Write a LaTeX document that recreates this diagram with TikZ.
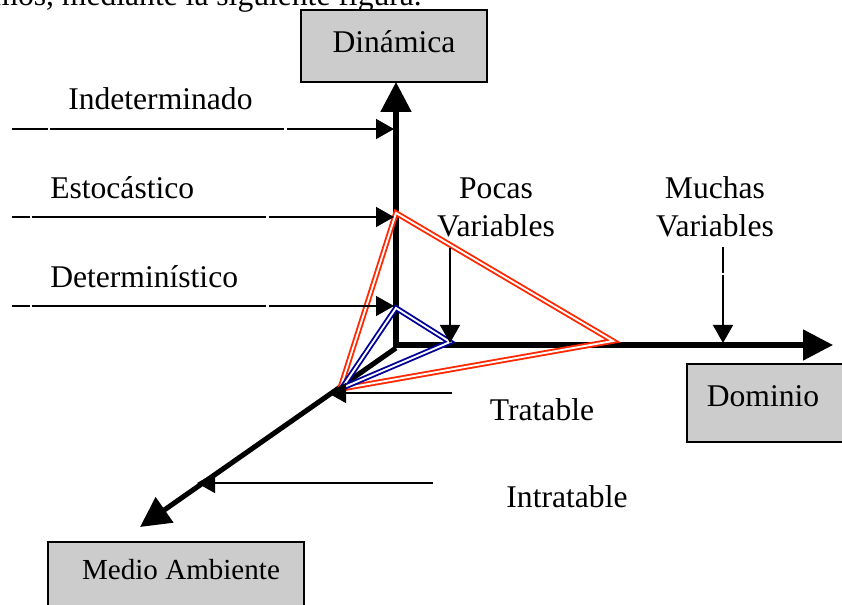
\documentclass[tikz,border=0pt]{standalone}
\usepackage{fontspec}
\setmainfont{Liberation Serif}
\usetikzlibrary{arrows.meta}
\definecolor{boxgray}{RGB}{204,204,204}
\definecolor{trired}{RGB}{255,40,0}
\definecolor{triblue}{RGB}{0,0,150}
\begin{document}
\begin{tikzpicture}[x=0.75pt,y=-0.75pt,
  every node/.style={font=\fontsize{23.7pt}{28.5pt}\selectfont, inner sep=0pt},
  box/.style={draw=black, fill=boxgray, line width=1.1pt, inner sep=0pt},
  axisarrow/.style={line width=3.8pt, -{Triangle[length=22.5pt,width=22.5pt]}},
  thinarrow/.style={line width=1.1pt, -{Triangle[length=13.5pt,width=15pt]}},
  redtri/.style={draw=trired, double=white, line width=1.4pt, double distance=1.4pt},
  bluetri/.style={draw=triblue, double=white, line width=1.4pt, double distance=1.4pt}]
\useasboundingbox (0,0) rectangle (842,605);
\clip (0,0) rectangle (842,605);

% cut-off line of the surrounding text
\node[anchor=base east] (intro) at (422,5.5) {mos, mediante la siguiente figura.};

% boxes
\node[box, minimum width=139.5pt, minimum height=54pt] (dinbox) at (394,46) {};
\node (dintext) at (394,42) {Dinámica};
\node[box, minimum width=118.5pt, minimum height=58.5pt] (dombox) at (766,403) {};
\node (domtext) at (763,396) {Dominio};
\node[box, minimum width=192pt, minimum height=66pt] (medbox) at (176,586) {};
\node[font=\fontsize{21.8pt}{26pt}\selectfont] (medtext) at (181,570) {Medio Ambiente};

% axes
\coordinate (Ov) at (396,347.5);
\coordinate (Oh) at (394,345);
\coordinate (Od) at (396,348);
\coordinate (ytip) at (396,82);
\coordinate (xtip) at (833,345);
\coordinate (ztip) at (140,527);
\draw[axisarrow] (Ov) -- (ytip);
\draw[axisarrow] (Oh) -- (xtip);
\draw[axisarrow] (Od) -- (ztip);

% triangles
\coordinate (rA) at (396,213);
\coordinate (rB) at (613,341);
\coordinate (rC) at (340,389);
\coordinate (bA) at (396,308);
\coordinate (bB) at (450,342);
\coordinate (bC) at (342,388);
\draw[redtri] (rA) -- (rB) -- (rC) -- cycle;
\draw[bluetri] (bA) -- (bB) -- (bC) -- cycle;

% labels
\node[anchor=west] (indt) at (68,99) {Indeterminado};
\node[anchor=west] (estt) at (50,188) {Estocástico};
\node[anchor=west] (dett) at (50,277) {Determinístico};
\node[align=center] (pocas) at (496,207) {Pocas\\Variables};
\node[align=center] (muchas) at (715,207) {Muchas\\Variables};
\node (trat) at (542,410) {Tratable};
\node (intrat) at (567,497) {Intratable};

% left arrows
\coordinate (ind0) at (12,129);  \coordinate (ind1) at (394,129);
\coordinate (est0) at (12,217);  \coordinate (est1) at (394,217);
\coordinate (det0) at (12,306);  \coordinate (det1) at (394,306);
\draw[thinarrow, dash pattern=on 27pt off 1.5pt on 175.5pt off 2.25pt on 300pt] (ind0) -- (ind1);
\draw[thinarrow, dash pattern=on 13.5pt off 1.5pt on 175.5pt off 2.25pt on 300pt] (est0) -- (est1);
\draw[thinarrow, dash pattern=on 13.5pt off 1.5pt on 175.5pt off 2.25pt on 300pt] (det0) -- (det1);

% variable arrows
\coordinate (poc0) at (450,248);  \coordinate (poc1) at (450,343);
\coordinate (muc0) at (723,247);  \coordinate (muc1) at (723,343);
\draw[thinarrow] (poc0) -- (poc1);
\draw[thinarrow, dash pattern=on 19.5pt off 1.5pt on 200pt] (muc0) -- (muc1);

% tratable / intratable arrows
\coordinate (tr0) at (452,393);  \coordinate (tr1) at (328,393);
\coordinate (it0) at (433,483);  \coordinate (it1) at (197,483);
\draw[thinarrow] (tr0) -- (tr1);
\draw[thinarrow] (it0) -- (it1);
\end{tikzpicture}
\end{document}
